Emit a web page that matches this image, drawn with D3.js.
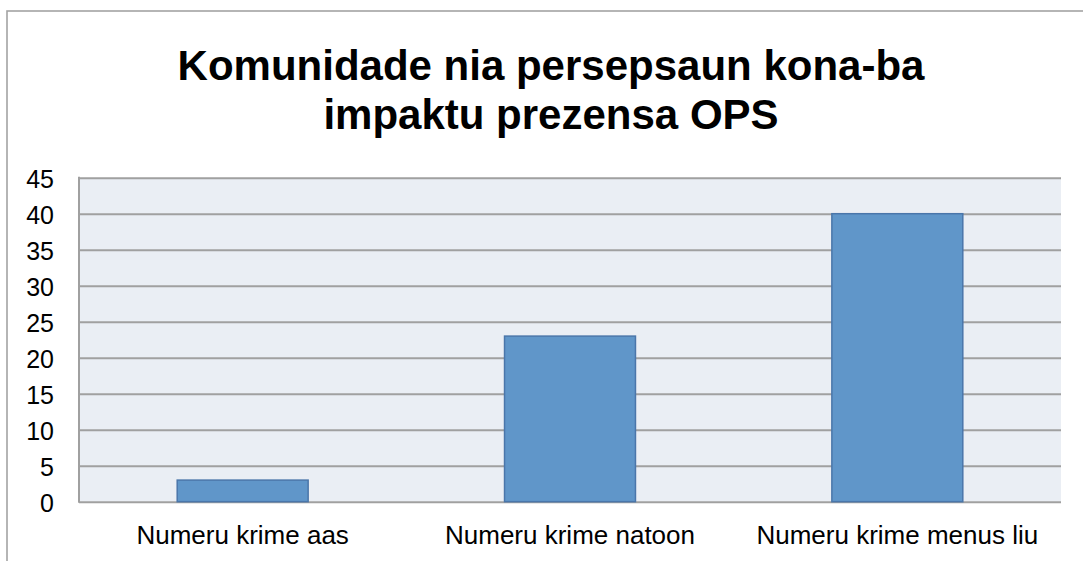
<!DOCTYPE html>
<html>
<head>
<meta charset="utf-8">
<script src="https://cdn.jsdelivr.net/npm/d3@7"></script>
<style>
  body { margin: 0; background: #fff; }
  svg { display: block; font-family: "Liberation Sans", Arial, sans-serif; }
</style>
</head>
<body>
<svg id="chart" width="1083" height="561"></svg>
<script>
const titleLines = ['Komunidade nia persepsaun kona-ba', 'impaktu prezensa OPS'];
const categories = ['Numeru krime aas', 'Numeru krime natoon', 'Numeru krime menus liu'];
const values = [3, 23, 40];
const yTicks = [0, 5, 10, 15, 20, 25, 30, 35, 40, 45];

const svg = d3.select('#chart');
const plot = {left: 79, right: 1061, top: 177.7, bottom: 501.7};

// chart frame, cut off at right and bottom like the reference
svg.append('rect')
    .attr('x', 7).attr('y', 11)
    .attr('width', 1200).attr('height', 700)
    .attr('fill', '#fff')
    .attr('stroke', '#a3a3a3')
    .attr('stroke-width', 1.6);

const title = svg.append('text')
    .attr('text-anchor', 'middle')
    .attr('font-size', 42)
    .attr('font-weight', 'bold')
    .attr('fill', '#000');
titleLines.forEach((line, i) => {
    title.append('tspan').attr('x', 551).attr('y', 80 + i * 49.3).text(line);
});

const x = d3.scaleBand()
    .domain(categories)
    .range([plot.left, plot.right])
    .paddingInner(0.6)
    .paddingOuter(0.3);

const y = d3.scaleLinear()
    .domain([0, 45])
    .range([plot.bottom, plot.top]);

svg.append('rect')
    .attr('x', plot.left).attr('y', plot.top)
    .attr('width', plot.right - plot.left)
    .attr('height', plot.bottom - plot.top)
    .attr('fill', '#eaeef4');

// gridlines
const grid = svg.append('g')
    .attr('transform', `translate(${plot.left},0)`)
    .call(d3.axisLeft(y).tickValues(yTicks).tickSize(-(plot.right - plot.left)).tickFormat(''));
grid.select('.domain').remove();
grid.selectAll('line').attr('stroke', '#a0a0a0').attr('stroke-width', 2);

svg.append('line')
    .attr('x1', plot.left).attr('x2', plot.left)
    .attr('y1', plot.top - 1).attr('y2', plot.bottom + 1)
    .attr('stroke', '#a0a0a0').attr('stroke-width', 2);

svg.append('g').selectAll('rect')
    .data(values)
    .join('rect')
    .attr('x', (d, i) => x(categories[i]))
    .attr('y', d => y(d))
    .attr('width', x.bandwidth())
    .attr('height', d => y(0) - y(d))
    .attr('fill', '#6096c9')
    .attr('stroke', '#4a76aa')
    .attr('stroke-width', 1.5);

const yAxis = svg.append('g')
    .attr('transform', `translate(${plot.left},0)`)
    .call(d3.axisLeft(y).tickValues(yTicks).tickSize(0).tickPadding(25));
yAxis.select('.domain').remove();
yAxis.selectAll('text')
    .attr('font-size', 25)
    .attr('font-family', '"Liberation Sans", Arial, sans-serif')
    .attr('fill', '#000')
    .attr('dy', '0.38em');

const xAxis = svg.append('g')
    .attr('transform', `translate(0,${plot.bottom})`)
    .call(d3.axisBottom(x).tickSize(0).tickPadding(24));
xAxis.select('.domain').remove();
xAxis.selectAll('text')
    .attr('font-size', 26)
    .attr('font-family', '"Liberation Sans", Arial, sans-serif')
    .attr('fill', '#000');
</script>
</body>
</html>
